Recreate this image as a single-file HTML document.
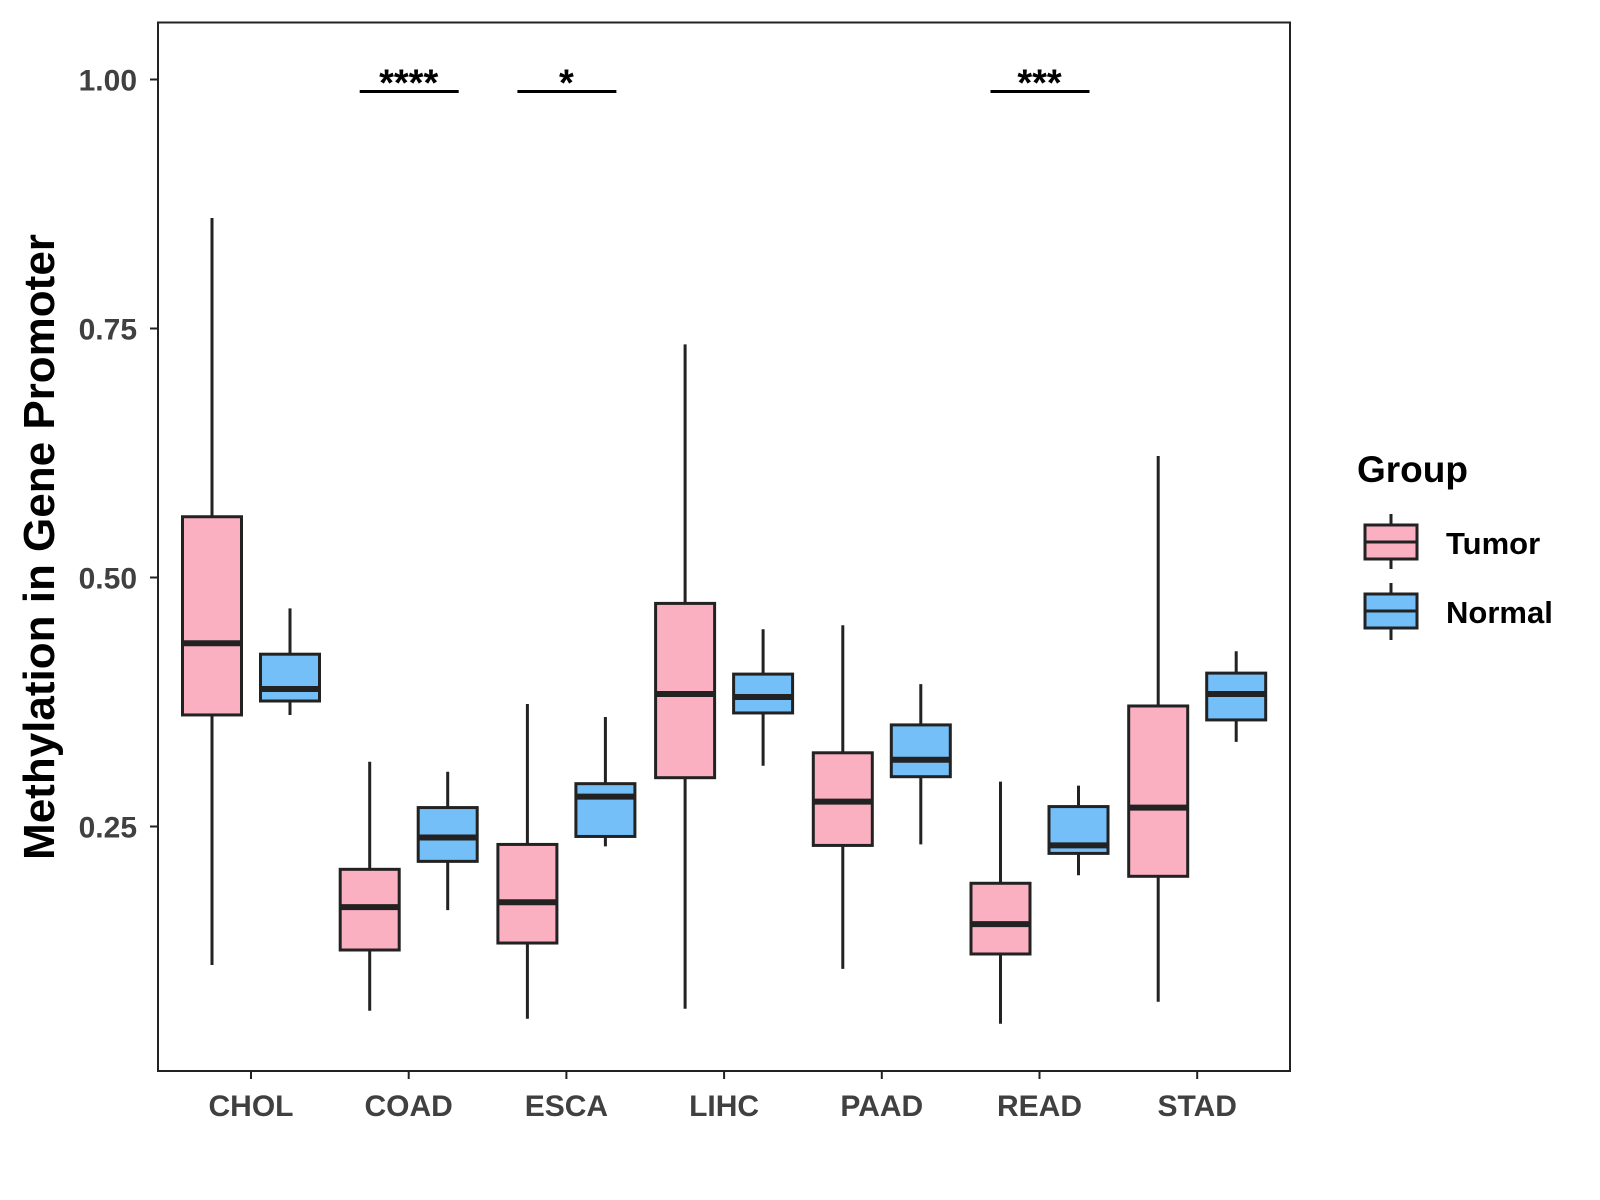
<!DOCTYPE html>
<html><head><meta charset="utf-8"><style>
html,body{margin:0;padding:0;background:#fff;}
svg{display:block;font-family:"Liberation Sans",Arial,sans-serif;}
</style></head><body>
<svg id="chart" width="1600" height="1200" viewBox="0 0 1600 1200">
<rect x="158" y="22.5" width="1132" height="1048.5" fill="#fff" stroke="#222" stroke-width="2"/>
<g id="yaxis"></g>
<g id="xaxis"></g>
<g id="boxes"></g>
<g id="sig"></g>
<text x="54" y="547" transform="rotate(-90 54 547)" text-anchor="middle" font-size="44" font-weight="bold" fill="#000">Methylation in Gene Promoter</text>
<g>
<text x="1357" y="482" font-size="37" font-weight="bold" fill="#000">Group</text>
<g>
<line x1="1391" y1="514" x2="1391" y2="569" stroke="#222" stroke-width="3"/>
<rect x="1365" y="525" width="52" height="34" fill="#FBB0C2" stroke="#222" stroke-width="3"/>
<line x1="1365" y1="542" x2="1417" y2="542" stroke="#222" stroke-width="3"/>
<text x="1446" y="554" font-size="31" font-weight="bold" fill="#000">Tumor</text>
</g>
<g>
<line x1="1391" y1="583" x2="1391" y2="640" stroke="#222" stroke-width="3"/>
<rect x="1365" y="594" width="52" height="34" fill="#74BFF8" stroke="#222" stroke-width="3"/>
<line x1="1365" y1="611" x2="1417" y2="611" stroke="#222" stroke-width="3"/>
<text x="1446" y="623" font-size="31" font-weight="bold" fill="#000">Normal</text>
</g>
</g>
</svg>
<script>
const categories=["CHOL","COAD","ESCA","LIHC","PAAD","READ","STAD"];
// [whiskerLow, q1, median, q3, whiskerHigh]
const tumor=[[0.111,0.362,0.434,0.561,0.861],[0.065,0.126,0.169,0.207,0.315],[0.057,0.133,0.174,0.232,0.373],[0.067,0.299,0.383,0.474,0.734],[0.107,0.231,0.275,0.324,0.452],[0.052,0.122,0.152,0.193,0.295],[0.074,0.200,0.269,0.371,0.622]];
const normal=[[0.362,0.376,0.388,0.423,0.469],[0.166,0.215,0.239,0.269,0.305],[0.230,0.240,0.280,0.293,0.360],[0.311,0.364,0.380,0.403,0.448],[0.232,0.300,0.317,0.352,0.393],[0.201,0.223,0.231,0.270,0.291],[0.335,0.357,0.383,0.404,0.426]];
const yTicks=[0.25,0.5,0.75,1.0];
const yTickLabels=["0.25","0.50","0.75","1.00"];
const sigCats=["COAD","ESCA","READ"];
const sigLabels=["****","*","***"];
const sigLevel=[0.988,0.988,0.988];

const NS="http://www.w3.org/2000/svg";
function y(v){return 826.5-(v-0.25)*996;}
function x(i){return 251+i*157.7;}
function mk(tag,attrs,parent,text){const e=document.createElementNS(NS,tag);for(const k in attrs)e.setAttribute(k,attrs[k]);if(text!=null)e.textContent=text;parent.appendChild(e);return e;}
const ya=document.getElementById('yaxis'),xa=document.getElementById('xaxis'),bx=document.getElementById('boxes'),sg=document.getElementById('sig');
yTicks.forEach((t,i)=>{
  const l=mk('line',{x1:150,x2:158,y1:y(t),y2:y(t),stroke:'#222','stroke-width':2},ya);
  
  
  const tx=mk('text',{x:137,y:y(t)+11,'text-anchor':'end','font-size':30,'font-weight':'bold',fill:'#404040'},ya,yTickLabels[i]);
  
  
});
categories.forEach((c,i)=>{
  const l=mk('line',{x1:x(i),x2:x(i),y1:1071,y2:1079,stroke:'#222','stroke-width':2},xa);
  
  
  const tx=mk('text',{x:x(i),y:1116,'text-anchor':'middle','font-size':30,'font-weight':'bold',fill:'#404040'},xa,c);
  
  
});
function drawBox(cx,d,fill,name){
  const g=mk('g',{},bx);
  
  
  const hw=29.5;
  mk('line',{x1:cx,x2:cx,y1:y(d[0]),y2:y(d[4]),stroke:'#222','stroke-width':3},g);
  mk('rect',{x:cx-hw,y:y(d[3]),width:2*hw,height:y(d[1])-y(d[3]),fill:fill,stroke:'#222','stroke-width':3},g);
  mk('line',{x1:cx-hw,x2:cx+hw,y1:y(d[2]),y2:y(d[2]),stroke:'#222','stroke-width':6},g);
}
categories.forEach((c,i)=>{
  drawBox(x(i)-39,tumor[i],'#FBB0C2','box-tumor-'+c.toLowerCase());
  drawBox(x(i)+39,normal[i],'#74BFF8','box-normal-'+c.toLowerCase());
});
sigCats.forEach((c,k)=>{
  const i=categories.indexOf(c);
  const yy=y(sigLevel[k]);
  const l=mk('line',{x1:x(i)-49,x2:x(i)+50,y1:yy,y2:yy,stroke:'#000','stroke-width':3},sg);
  
  
  const t=mk('text',{x:x(i),y:yy+4,'text-anchor':'middle','font-size':38,'font-weight':'bold',fill:'#000'},sg,sigLabels[k]);
  
  
});
</script>
</body></html>
